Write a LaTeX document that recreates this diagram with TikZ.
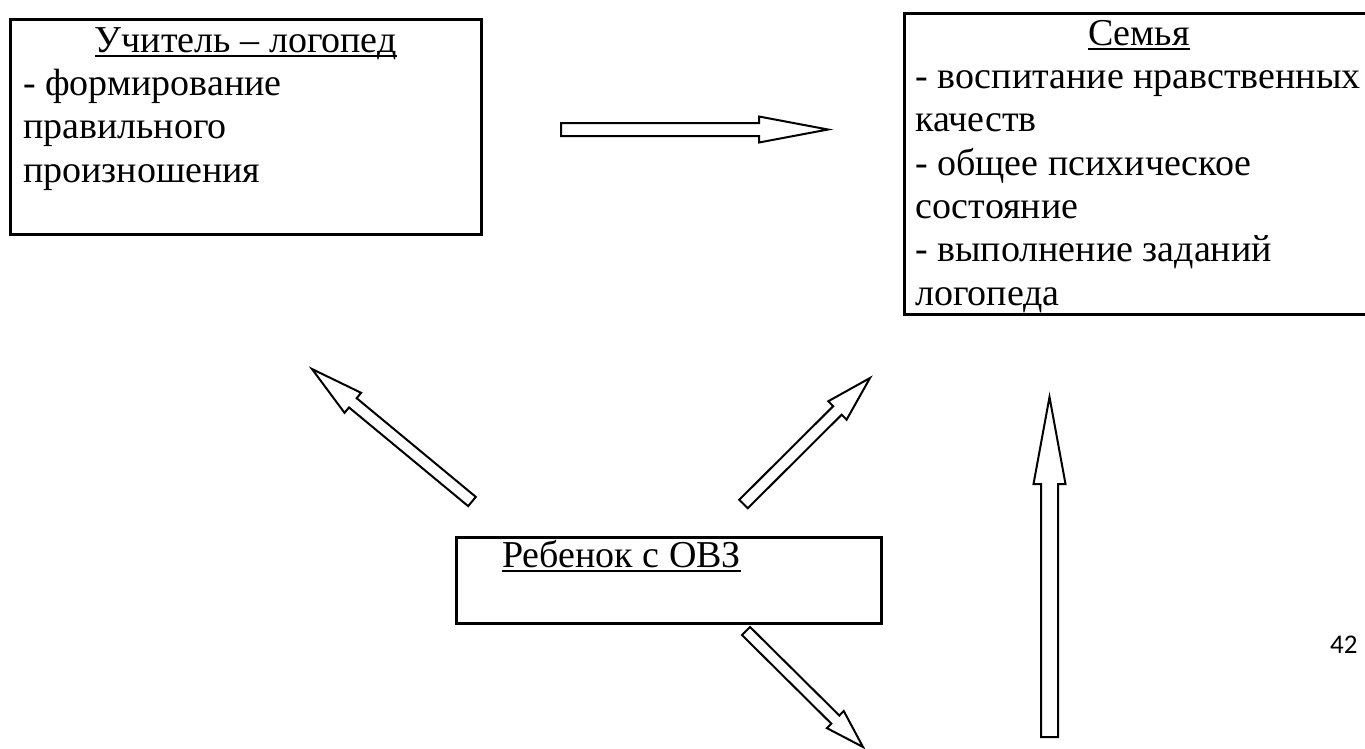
\documentclass[tikz,border=0pt]{standalone}
\usepackage{fontspec}
\setmainfont{Liberation Serif}
\newfontfamily\calibfont{Carlito}
\usetikzlibrary{calc}
\newcommand\myul[1]{\setbox0\hbox{#1}\rlap{\rule[-4.5pt]{\wd0}{2pt}}\box0}
% #1 tail, #2 tip, #3 shaft half width, #4 head half width, #5 head length
\newcommand\blockarrow[5]{%
  \coordinate (ba-h) at ($(#2)!#5!(#1)$);
  \draw[blk] ($(#1)!#3!90:(#2)$) -- ($(ba-h)!#3!90:(#2)$) -- ($(ba-h)!#4!90:(#2)$)
    -- (#2) -- ($(ba-h)!#4!-90:(#2)$) -- ($(ba-h)!#3!-90:(#2)$)
    -- ($(#1)!#3!-90:(#2)$) -- cycle;
}
\begin{document}
\begin{tikzpicture}[x=1pt,y=-1pt,
  boxnode/.style={draw, line width=2.6pt, inner sep=0pt, anchor=north west},
  titletext/.style={inner sep=0pt, anchor=base, font=\fontsize{38}{43.3}\selectfont},
  bodytext/.style={inner sep=0pt, anchor=north west, align=left, font=\fontsize{38}{43.3}\selectfont},
  blk/.style={draw, line width=2pt, fill=white, line join=miter}]
\useasboundingbox (0,0) rectangle (1365,748);
\clip (0,0) rectangle (1365,748);
\fill[white] (0,0) rectangle (1365,748);

% boxes
\node[boxnode, minimum width=471pt, minimum height=215pt] (L) at (9,18) {};
\node[boxnode, minimum width=469pt, minimum height=301pt] (S) at (903,12) {};
\node[boxnode, minimum width=425pt, minimum height=86pt] (C) at (455,536) {};

% texts
\node[titletext] (Lt) at ($(L.north)+(0,34)$) {\myul{Учитель – логопед}};
\node[bodytext] (Lb) at ($(L.north west)+(14,77.3-30.31)$) {\strut- формирование\\правильного\\произношения};
\node[titletext] (St) at ($(S.north)+(0,33)$) {\myul{Семья}};
\node[bodytext] (Sb) at ($(S.north west)+(12,76.3-30.31)$) {\strut- воспитание нравственных\\качеств\\- общее психическое\\состояние\\- выполнение заданий\\логопеда};
\node[titletext, anchor=base west] (Ct) at ($(C.north west)+(47,31)$) {\myul{Ребенок с ОВЗ}};
\node[inner sep=0pt, anchor=base west, font=\calibfont\fontsize{27}{32}\selectfont] (pg) at (1330,653) {42};

% arrow end points
\coordinate (h1) at (561,129.5);  \coordinate (h2) at (828,129.5);
\coordinate (ul1) at (472,501.5); \coordinate (ul2) at (312,369);
\coordinate (ur1) at (743.5,504); \coordinate (ur2) at (870,378);
\coordinate (dr1) at (746,631);   \coordinate (dr2) at (863,747);
\coordinate (v1) at (1049.5,737); \coordinate (v2) at (1049.5,397);

\blockarrow{h1}{h2}{6.5pt}{13pt}{69pt}
\blockarrow{ul1}{ul2}{6pt}{13pt}{53pt}
\blockarrow{ur1}{ur2}{6pt}{13pt}{46pt}
\blockarrow{dr1}{dr2}{5.7pt}{12pt}{39pt}
\blockarrow{v1}{v2}{8.5pt}{16pt}{87pt}
\end{tikzpicture}
\end{document}
